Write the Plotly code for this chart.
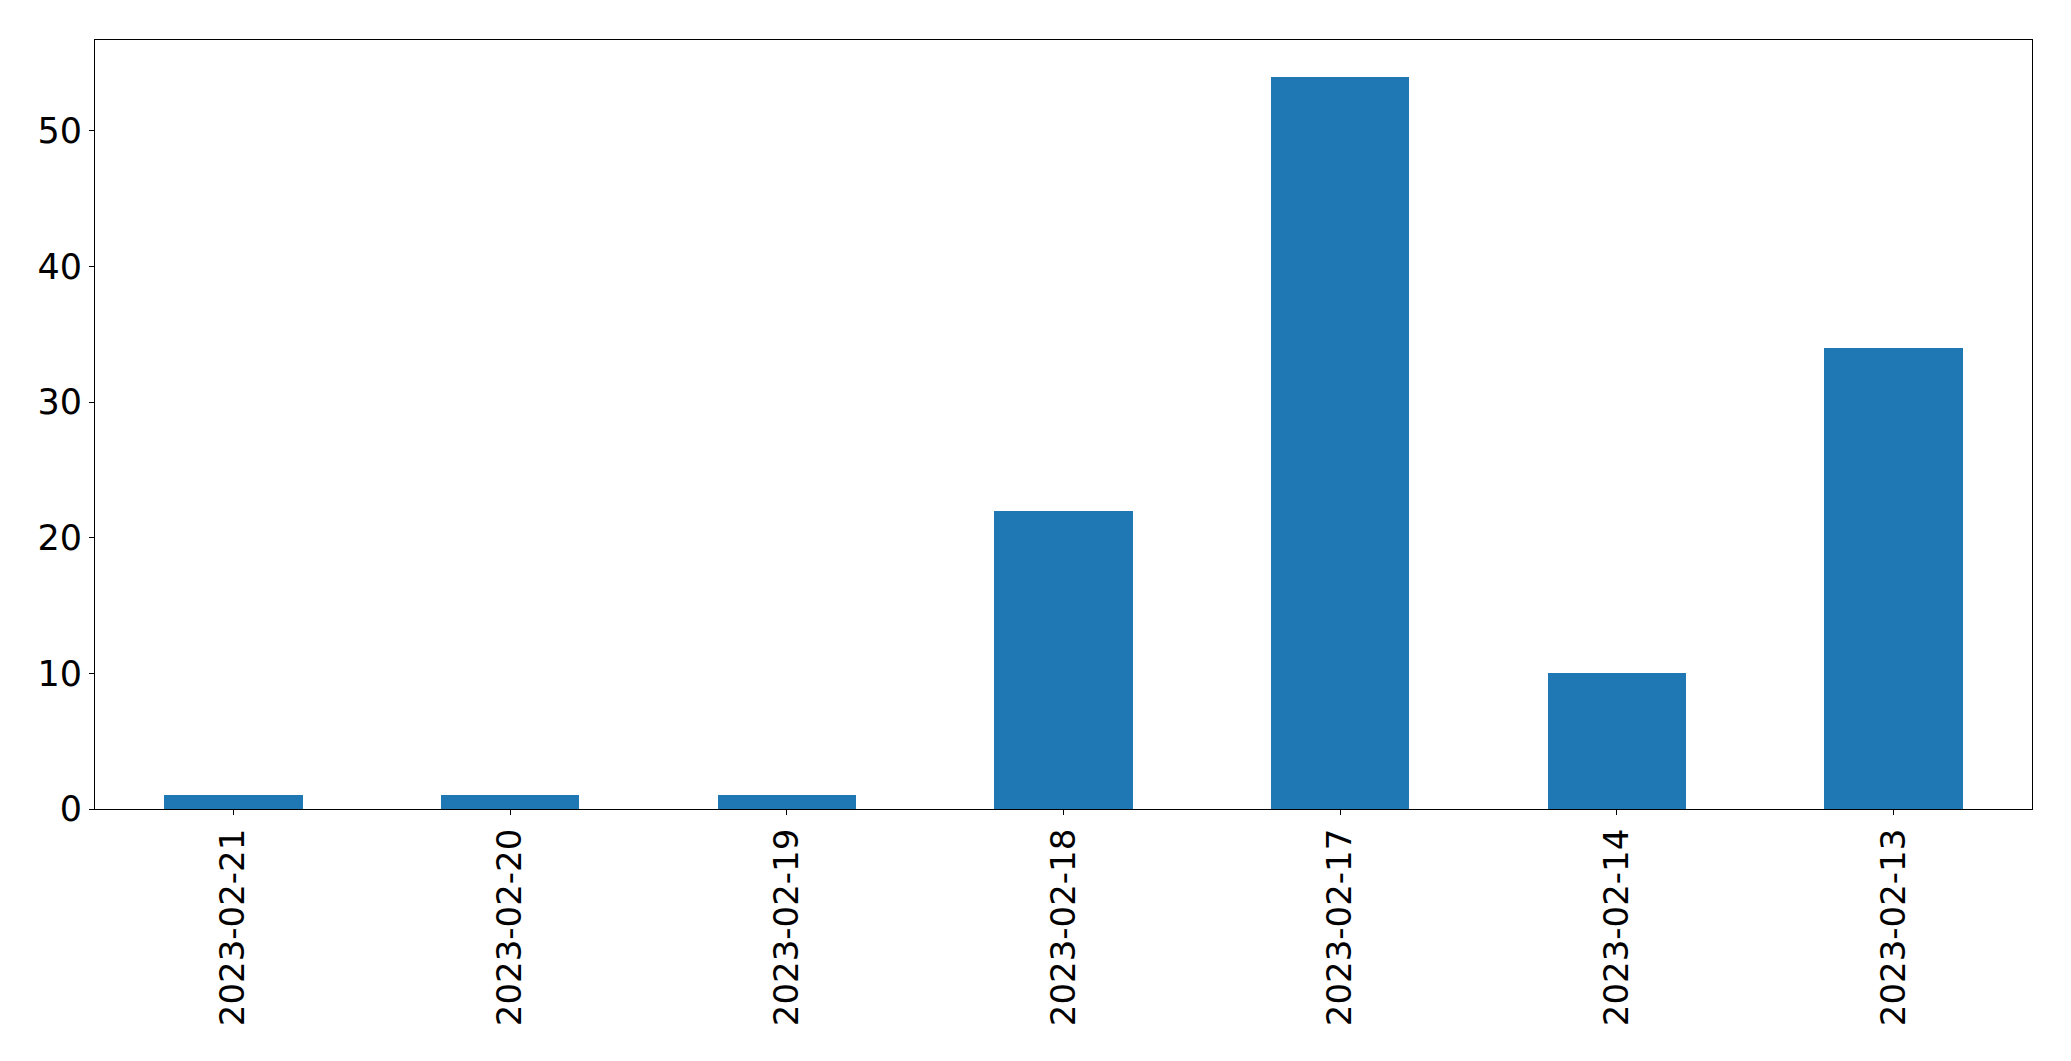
import plotly.graph_objects as go

dates = ["2023-02-21", "2023-02-20", "2023-02-19", "2023-02-18",
         "2023-02-17", "2023-02-14", "2023-02-13"]
counts = [1, 1, 1, 22, 54, 10, 34]
y_ticks = [0, 10, 20, 30, 40, 50]

fig = go.Figure(go.Bar(x=list(range(len(dates))), y=counts, width=0.5,
                       marker=dict(color="#1f77b4", line=dict(width=0))))

# page body has an 8px default margin, so compensate
W, H = 2063, 1053
L, R, T, B = 86.5, 39.3, 31.5, 252

fig.update_layout(
    width=W, height=H,
    margin=dict(l=L, r=R, t=T, b=B, pad=0),
    paper_bgcolor="white", plot_bgcolor="white",
    font=dict(family="DejaVu Sans", size=34, color="black"),
    showlegend=False,
    bargap=0,
)
fig.update_xaxes(
    range=[-0.5, 6.5], tickmode="array", tickvals=list(range(len(dates))),
    ticktext=dates, tickangle=-90, ticks="outside", ticklen=5, tickwidth=1.1,
    tickcolor="black", showline=True, linecolor="black", linewidth=1.1,
    mirror=True, showgrid=False, zeroline=False,
)
fig.update_yaxes(
    range=[0, 56.7], tickmode="array", tickvals=y_ticks,
    ticks="outside", ticklen=5, tickwidth=1.1, tickcolor="black",
    showline=True, linecolor="black", linewidth=1.1, mirror=True,
    showgrid=False, zeroline=False, tickfont=dict(size=35),
)

fig.write_html("out.html", config={"displayModeBar": False})
